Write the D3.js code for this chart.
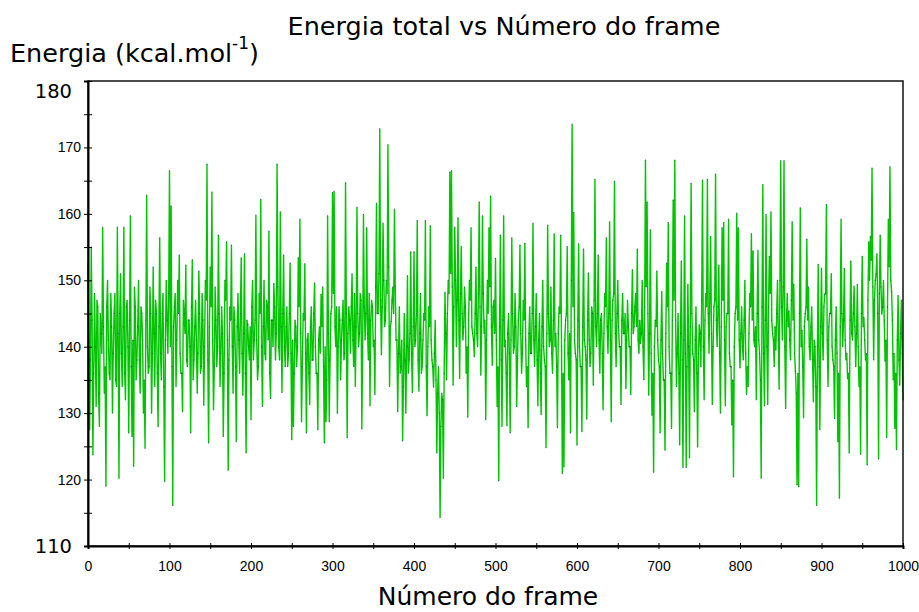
<!DOCTYPE html>
<html>
<head>
<meta charset="utf-8">
<script src="https://cdn.jsdelivr.net/npm/d3@7"></script>
<style>
  html, body { margin: 0; padding: 0; background: #fff; }
  svg { display: block; }
</style>
</head>
<body>
<svg id="chart" width="919" height="612"></svg>
<script>
(function () {
  'use strict';

  // ── Data ────────────────────────────────────────────────────────────────────
  // energy per frame:
  // energyEven holds frames 0, 2, 4 ... 1000, energyOdd frames 1, 3 ... 999
  var energyEven = [
    152.5, 127.5, 155, 123.7, 148, 131, 146, 128, 142, 158,
    133, 119, 150, 136, 148, 130, 145, 135, 158, 120.2,
    151, 134, 158, 132, 147, 127, 159.7, 126.5, 122, 146,
    138, 150, 133, 145, 130, 124.7, 162.8, 136, 149, 130,
    152, 134, 145, 128, 156.4, 135, 148, 119.7, 150, 139,
    166.5, 161.2, 116.1, 146, 134, 150, 153.8, 136, 130.2, 145,
    152.3, 137, 144, 127, 153.1, 138, 147, 133, 151.4, 136,
    148, 131.2, 150, 167.5, 125.5, 152, 163.3, 130.5, 149, 137,
    156.8, 134, 146, 126.5, 150, 155.8, 121.4, 146, 155.3, 133,
    144, 125.7, 148, 136, 153.4, 132.7, 154, 124, 143.3, 138,
    129, 150, 141, 159.8, 135, 148, 162.2, 131, 150, 138,
    146, 157.4, 132.2, 144, 149.5, 138, 167.5, 140, 160.3, 133.1,
    153.8, 137, 146, 139, 152.6, 126, 128, 144, 137, 153.4,
    159.2, 128.7, 145, 152.5, 127, 142, 131.3, 146, 138, 149.6,
    136, 127.5, 143, 147.9, 149, 125.5, 128.7, 159.7, 128.7, 145,
    163.2, 163.4, 140, 130, 146, 135, 144, 138, 164.7, 126.3,
    146, 139, 151, 137, 134, 161, 140, 148, 127.6, 159.9,
    141, 157.9, 138, 131.1, 147, 140, 132.8, 161.6, 145, 172.8,
    138.8, 158.6, 143, 150, 170.4, 134, 143.8, 149, 160.7, 141,
    130.2, 146, 137, 125.8, 145, 130, 150.7, 138, 154.3, 133.1,
    154.3, 141, 159, 133.3, 148, 137, 145, 159, 129.6, 146,
    158.2, 138, 133.9, 144, 124, 137, 114.3, 133, 120.2, 148.2,
    135, 150, 166.3, 166.5, 134.2, 158, 140, 159.4, 135.2, 155.1,
    141, 149, 136, 129.4, 150, 157.9, 142, 138.5, 152, 140,
    161.8, 135.7, 159.7, 142, 129, 150, 157.9, 162.7, 137.2, 147,
    153.3, 131, 119.8, 156.8, 128, 159.7, 141, 128.1, 145, 127,
    156.4, 139, 148, 131, 144, 155.3, 136, 147, 155.6, 134,
    127.8, 146, 139, 158.6, 137, 148, 131.1, 145, 129.8, 150,
    138, 124.8, 158.3, 140, 149, 136, 157, 142, 127.8, 146,
    156.8, 120.9, 121.9, 144, 155.1, 135, 127, 173.5, 160.2, 139,
    125.2, 155.5, 137, 127.2, 154.7, 140, 129.1, 151.1, 137, 146,
    134.2, 165.2, 140, 153.8, 136, 145, 130.5, 148, 156.4, 139,
    158.8, 128.7, 147, 164.9, 137, 150, 140, 131.3, 148, 142,
    133.7, 147, 140, 132.8, 151.6, 143, 148, 154.7, 139, 140.5,
    150, 135, 168.1, 161.8, 132.7, 157.6, 129.7, 121.1, 144, 151.4,
    138, 127, 148.3, 135, 124.4, 152.6, 158.7, 136, 127.7, 162.1,
    168.1, 134, 145, 125.2, 152.9, 121.8, 159.7, 121.8, 149.4, 123.3,
    164.6, 139, 130.2, 146, 124.9, 143.3, 137, 165.1, 132, 148,
    165.2, 139, 156.6, 131.3, 146, 166, 140, 152.3, 130, 157.9,
    158.7, 131.1, 145, 159.2, 137, 128.2, 120.4, 145, 160.1, 157.9,
    136.8, 146, 138, 150, 132.8, 134, 148, 157, 154.4, 140,
    132, 154.5, 139, 120.2, 164.4, 131.1, 159.9, 131.3, 153.6, 160.3,
    142, 137, 139.5, 150, 133.6, 168, 141, 168, 130.7, 148,
    145.4, 138, 158.8, 149.4, 136.3, 119.2, 118.9, 160.9, 142.5, 129.3,
    145, 156.2, 149, 138, 146, 131.7, 140, 116.1, 152.4, 127.5,
    151.8, 138, 147.9, 161.4, 134, 145, 151, 138, 129.2, 146,
    125.7, 117.2, 159.2, 140, 151.8, 138, 135.2, 124, 152.9, 141,
    149.1, 137, 149.4, 134, 123.8, 153.6, 144.4, 138, 122.2, 155.8,
    156.6, 166.9, 138, 150, 154, 123.1, 156.8, 144.9, 150, 137.8,
    126.3, 159.2, 167.1, 148.3, 135, 127.7, 124.5, 147.7, 134.2, 147,
    132
  ];

  var energyOdd = [
    141, 138, 144, 136, 140, 147, 133, 145, 139, 143,
    137, 146, 141, 135, 143, 139, 148, 134, 142, 145,
    139, 143, 136, 146, 140, 144, 137, 141, 149, 135,
    143, 138, 146, 141, 135, 144, 140, 137, 145, 139,
    142, 147, 136, 143, 139, 145, 134, 141, 144, 148,
    140, 137, 143, 148, 141, 145, 139, 136, 147, 142,
    138, 144, 140, 146, 135, 143, 141, 139, 145, 137,
    144, 140, 147, 138, 143, 146, 141, 137, 144, 140,
    145, 139, 142, 136, 147, 141, 138, 144, 140, 146,
    137, 143, 141, 145, 139, 142, 136, 144, 140, 143,
    146, 138, 144, 141, 137, 145, 140, 143, 139, 147,
    141, 136, 144, 140, 146, 142, 149, 138, 143, 145,
    140, 143, 137, 145, 139, 141, 136, 143, 140, 146,
    142, 137, 144, 139, 141, 136, 143, 138, 145, 140,
    136, 141, 139, 143, 137, 140, 135, 142, 138, 146,
    148, 143, 146, 140, 144, 141, 147, 139, 145, 142,
    144, 146, 141, 148, 143, 145, 142, 147, 140, 146,
    145, 142, 148, 144, 146, 141, 149, 145, 151, 147,
    146, 150, 144, 148, 152, 143, 147, 145, 149, 141,
    139, 136, 141, 134, 138, 140, 136, 142, 139, 143,
    140, 145, 138, 142, 136, 141, 144, 137, 140, 143,
    141, 137, 139, 135, 133, 130, 128, 132, 136, 142,
    145, 148, 151, 149, 146, 150, 147, 144, 148, 145,
    143, 146, 140, 144, 147, 143, 141, 145, 142, 148,
    146, 143, 148, 144, 141, 145, 149, 143, 146, 142,
    141, 137, 143, 138, 144, 140, 136, 142, 139, 141,
    145, 140, 143, 138, 146, 142, 139, 144, 141, 137,
    142, 139, 145, 141, 143, 138, 141, 136, 143, 140,
    137, 142, 145, 141, 139, 144, 140, 137, 142, 145,
    140, 136, 141, 145, 139, 142, 150, 146, 141, 138,
    144, 140, 137, 143, 141, 138, 144, 141, 139, 145,
    147, 143, 145, 141, 144, 139, 142, 146, 143, 145,
    141, 144, 148, 142, 145, 143, 140, 144, 142, 145,
    141, 143, 140, 145, 142, 146, 143, 141, 144, 142,
    140, 146, 149, 145, 142, 139, 136, 140, 143, 141,
    137, 141, 139, 135, 142, 146, 140, 136, 144, 147,
    144, 139, 136, 142, 138, 141, 139, 137, 140, 143,
    145, 138, 141, 136, 139, 142, 147, 140, 144, 146,
    145, 148, 142, 140, 147, 144, 146, 139, 143, 147,
    141, 143, 145, 139, 137, 135, 140, 146, 144, 141,
    142, 140, 144, 139, 137, 142, 146, 144, 141, 143,
    145, 141, 135, 146, 139, 144, 140, 146, 148, 144,
    141, 143, 145, 141, 150, 146, 149, 140, 144, 143,
    141, 147, 144, 139, 133, 136, 145, 140, 137, 143,
    146, 144, 140, 143, 138, 141, 134, 140, 137, 143,
    142, 146, 148, 141, 143, 145, 140, 137, 141, 139,
    136, 143, 145, 144, 141, 139, 136, 144, 142, 145,
    143, 142, 140, 137, 145, 143, 141, 139, 147, 150,
    153, 149, 147, 151, 145, 148, 149, 146, 144, 141,
    146, 152, 150, 144, 139, 136, 141, 138, 142, 139
  ];

  var yTickValues = [110, 115, 120, 125, 130, 135, 140, 145, 150, 155, 160, 165, 170, 175, 180];
  var yLabels = [110, 120, 130, 140, 150, 160, 170, 180];
  var yBigLabels = [110, 180];
  var xTickValues = [0, 50, 100, 150, 200, 250, 300, 350, 400, 450, 500, 550, 600, 650, 700, 750, 800, 850, 900, 950, 1000];
  var xLabels = [0, 100, 200, 300, 400, 500, 600, 700, 800, 900, 1000];

  var TITLE = 'Energia total vs Número do frame';
  var X_TITLE = 'Número do frame';

  var BIG_FONT = '"DejaVu Sans", Verdana, sans-serif';
  var TICK_FONT = '"Liberation Sans", Arial, sans-serif';

  // frame i -> energy, interleaving the two halves back together
  var series = [];
  energyEven.forEach(function (v, i) {
    series.push({ frame: 2 * i, value: v });
    if (i < energyOdd.length) series.push({ frame: 2 * i + 1, value: energyOdd[i] });
  });

  // ── Layout ──────────────────────────────────────────────────────────────────
  var left = 88, right = 903, top = 81, bottom = 546;

  var svg = d3.select('#chart');

  var x = d3.scaleLinear().domain([0, 1000]).range([left, right]);
  var y = d3.scaleLinear().domain([110, 180]).range([bottom, top]);

  // ── Series ──────────────────────────────────────────────────────────────────
  var line = d3.line()
    .x(function (d) { return x(d.frame); })
    .y(function (d) { return y(d.value); });

  svg.append('path')
    .datum(series)
    .attr('fill', 'none')
    .attr('stroke', '#00c400')
    .attr('stroke-width', 1.4)
    .attr('d', line);

  svg.append('g')
    .selectAll('rect')
    .data(series)
    .join('rect')
    .attr('x', function (d) { return x(d.frame) - 0.5; })
    .attr('y', function (d) { return y(d.value) - 0.5; })
    .attr('width', 1)
    .attr('height', 1)
    .attr('fill', '#2a2a78')
    .attr('fill-opacity', 0.75);

  // ── Frame + axes ────────────────────────────────────────────────────────────
  svg.append('rect')
    .attr('x', left).attr('y', top)
    .attr('width', right - left).attr('height', bottom - top)
    .attr('fill', 'none')
    .attr('stroke', '#000')
    .attr('stroke-width', 1.4);

  var yAxis = d3.axisLeft(y)
    .tickValues(yTickValues)
    .tickSize(4)
    .tickPadding(3)
    .tickFormat(function (d) { return yLabels.indexOf(d) >= 0 ? d : ''; });

  var gy = svg.append('g').attr('transform', 'translate(' + left + ',0)').call(yAxis);
  gy.select('.domain').attr('stroke', '#000').attr('stroke-width', 2);
  gy.selectAll('.tick line').attr('x1', 4).attr('stroke', '#000');
  gy.selectAll('.tick text')
    .attr('fill', '#000')
    .attr('font-family', TICK_FONT)
    .attr('font-size', 14);
  gy.selectAll('.tick text')
    .filter(function (d) { return yBigLabels.indexOf(d) >= 0; })
    .attr('font-family', BIG_FONT)
    .attr('font-size', 19.5)
    .attr('x', -16)
    .attr('dy', function (d) { return d === 180 ? '0.84em' : '0.34em'; });

  var xAxis = d3.axisBottom(x)
    .tickValues(xTickValues)
    .tickSize(3)
    .tickPadding(12.5)
    .tickFormat(function (d) { return xLabels.indexOf(d) >= 0 ? d : ''; });

  var gx = svg.append('g').attr('transform', 'translate(0,' + bottom + ')').call(xAxis);
  gx.select('.domain').attr('stroke', '#000').attr('stroke-width', 2);
  gx.selectAll('.tick line').attr('y1', -3).attr('stroke', '#000');
  gx.selectAll('.tick text')
    .attr('fill', '#000')
    .attr('font-family', TICK_FONT)
    .attr('font-size', 14);

  // ── Titles ──────────────────────────────────────────────────────────────────
  svg.append('text')
    .attr('x', 504).attr('y', 35)
    .attr('text-anchor', 'middle')
    .attr('font-family', BIG_FONT)
    .attr('font-size', 25.5)
    .text(TITLE);

  var yTitle = svg.append('text')
    .attr('x', 10).attr('y', 62)
    .attr('font-family', BIG_FONT)
    .attr('font-size', 25.5);
  yTitle.append('tspan').text('Energia (kcal.mol');
  yTitle.append('tspan').attr('dy', -13).attr('font-size', 17).text('-1');
  yTitle.append('tspan').attr('dy', 13).text(')');

  svg.append('text')
    .attr('x', 488).attr('y', 605)
    .attr('text-anchor', 'middle')
    .attr('font-family', BIG_FONT)
    .attr('font-size', 25)
    .text(X_TITLE);
})();
</script>
</body>
</html>
